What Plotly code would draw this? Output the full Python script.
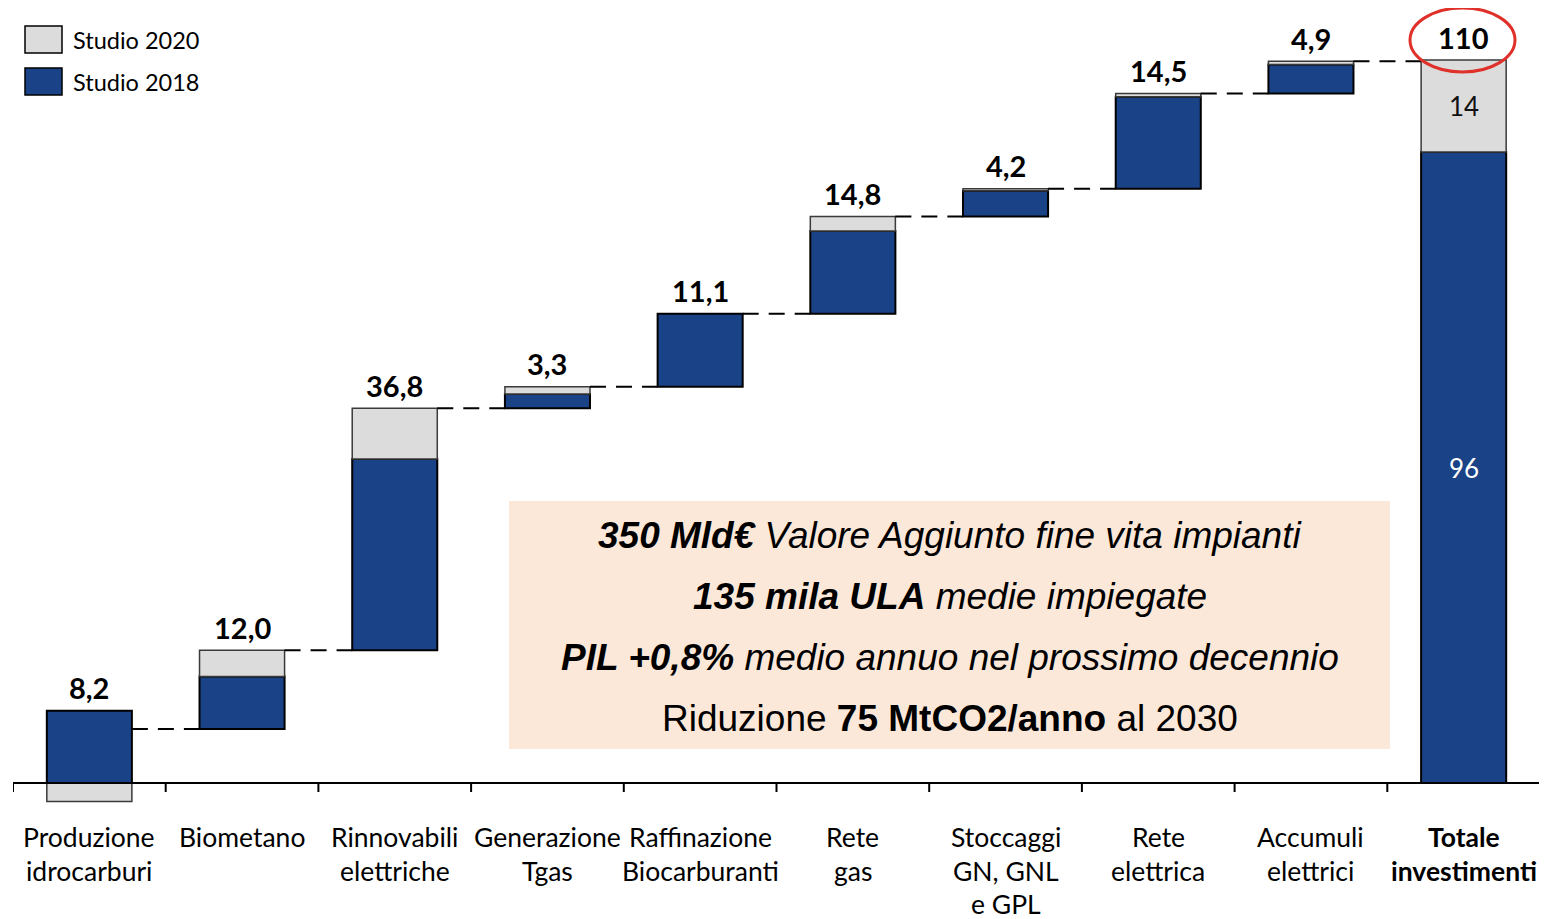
import plotly.graph_objects as go

# ---------------- data ----------------
categories = ["Produzione\nidrocarburi", "Biometano", "Rinnovabili\nelettriche", "Generazione\nTgas",
              "Raffinazione\nBiocarburanti", "Rete\ngas", "Stoccaggi\nGN, GNL\ne GPL", "Rete\nelettrica",
              "Accumuli\nelettrici", "Totale\ninvestimenti"]
studio_2018 = [11.0, 8.0, 29.1, 2.2, 11.1, 12.6, 3.9, 14.0, 4.4, 96]
studio_2020 = [-2.8, 4.0, 7.7, 1.1, 0.0, 2.2, 0.3, 0.5, 0.5, 14]
value_labels = ["8,2", "12,0", "36,8", "3,3", "11,1", "14,8", "4,2", "14,5", "4,9", "110"]
series_names = ["Studio 2020", "Studio 2018"]
box_lines = [
    "<b>350 Mld€</b> Valore Aggiunto fine vita impianti",
    "<b>135 mila ULA</b> medie impiegate",
    "<b>PIL +0,8%</b> medio annuo nel prossimo decennio",
    "Riduzione <b>75 MtCO2/anno</b> al 2030",
]
box_italic = [True, True, True, False]

BLUE = "#1A4387"
GREY = "#DCDCDC"
LABEL_FONT = "Lato, Carlito, sans-serif"

# ---------------- layout geometry (page pixels) ----------------
OFF = 8                      # page body margin
W, H = 1547 - OFF, 919 - OFF
PLOT_L, PLOT_R = 13, 1540    # page px
PLOT_T, PLOT_B = 8, 816      # page px
ML = PLOT_L - OFF
MR = W - (PLOT_R - OFF)
MT = PLOT_T - OFF
MB = H - (PLOT_B - OFF)
PX_PER_UNIT = (783 - 60) / 110.0
Y_MAX = (783 - PLOT_T) / PX_PER_UNIT
n = len(categories)
X_MIN, X_MAX = -0.5, n - 0.5
BW = 0.557
plot_w = PLOT_R - PLOT_L
plot_h = PLOT_B - PLOT_T
Y_MIN = Y_MAX - plot_h / PX_PER_UNIT


def px2x(px):
    return X_MIN + (px - PLOT_L) / plot_w * (X_MAX - X_MIN)


def py2y(py):
    return Y_MAX - (py - PLOT_T) / plot_h * (Y_MAX - Y_MIN)


def py2paper(py):
    return (PLOT_B - py) / plot_h


# ---------------- compute bases ----------------
blue_base, grey_base, tops, ends = [], [], [], []
cum = 0.0
for i in range(n):
    is_total = i == n - 1
    start = 0.0 if is_total else cum
    b, g = studio_2018[i], studio_2020[i]
    blue_base.append(start)
    grey_base.append(start + b if g >= 0 else start)
    tops.append(max(start + b, start + b + g, start))
    end = start + b + g
    ends.append(end)
    if not is_total:
        cum = end

xs = list(range(n))

fig = go.Figure()
fig.add_trace(go.Bar(
    x=xs, y=studio_2018, base=blue_base, width=BW, name=series_names[1],
    marker=dict(color=BLUE, line=dict(color="black", width=2)), showlegend=False,
))
gx = [x for x, g in zip(xs, studio_2020) if g != 0]
gy = [g for g in studio_2020 if g != 0]
gb = [b for b, g in zip(grey_base, studio_2020) if g != 0]
fig.add_trace(go.Bar(
    x=gx, y=gy, base=gb, width=BW, name=series_names[0],
    marker=dict(color=GREY, line=dict(color="#3a3a3a", width=1.5)), showlegend=False,
))

shapes = []
annotations = []

# connectors
for i in range(n - 1):
    shapes.append(dict(type="line", xref="x", yref="y", x0=i + BW / 2, x1=i + 1 - BW / 2,
                       y0=ends[i], y1=ends[i],
                       line=dict(color="black", width=2, dash="16px,10px")))

# baseline axis and ticks
shapes.append(dict(type="line", xref="x", yref="y", x0=X_MIN, x1=X_MAX, y0=0, y1=0,
                   line=dict(color="black", width=2)))
tick_len = 9 / PX_PER_UNIT
for k in range(n + 1):
    shapes.append(dict(type="line", xref="x", yref="y", x0=X_MIN + k, x1=X_MIN + k,
                       y0=0, y1=-tick_len, line=dict(color="black", width=2)))

# value labels
for i in range(n):
    annotations.append(dict(x=i, y=tops[i], xref="x", yref="y", text="<b>%s</b>" % value_labels[i],
                            showarrow=False, yanchor="middle", yshift=23,
                            font=dict(family=LABEL_FONT, size=29, color="black")))

# inside labels of total
ti = n - 1
annotations.append(dict(x=ti, y=studio_2018[ti] / 2, xref="x", yref="y", text="%d" % studio_2018[ti],
                        showarrow=False, font=dict(family=LABEL_FONT, size=26, color="white")))
annotations.append(dict(x=ti, y=studio_2018[ti] + studio_2020[ti] / 2, xref="x", yref="y",
                        text="%d" % studio_2020[ti], showarrow=False,
                        font=dict(family=LABEL_FONT, size=26, color="#111111")))

# red ellipse around total
shapes.append(dict(type="circle", xref="x", yref="y",
                   x0=px2x(1410), x1=px2x(1515), y0=py2y(72), y1=py2y(8),
                   line=dict(color="#E0302A", width=3)))

# category labels
for i, c in enumerate(categories):
    for k, line in enumerate(c.split("\n")):
        txt = "<b>%s</b>" % line if i == n - 1 else line
        annotations.append(dict(x=i, y=py2paper(837 + 33.5 * k), xref="x", yref="paper", text=txt,
                                showarrow=False, yanchor="middle",
                                font=dict(family=LABEL_FONT, size=26.5, color="black")))

# info box
shapes.append(dict(type="rect", xref="x", yref="y", x0=px2x(509), x1=px2x(1390),
                   y0=py2y(749), y1=py2y(501), fillcolor="#FCE8D9", line=dict(width=0), layer="below"))
cx = (px2x(509) + px2x(1390)) / 2
for k, (t, it) in enumerate(zip(box_lines, box_italic)):
    txt = "<i>%s</i>" % t if it else t
    annotations.append(dict(x=cx, y=py2y(535 + 61 * k), xref="x", yref="y", text=txt,
                            showarrow=False, yanchor="middle",
                            font=dict(family="Liberation Sans, Arial, sans-serif", size=37, color="black")))

# legend
leg = [(series_names[0], GREY, 26), (series_names[1], BLUE, 68)]
for name, col, top in leg:
    shapes.append(dict(type="rect", xref="x", yref="y", x0=px2x(25), x1=px2x(62),
                       y0=py2y(top + 27), y1=py2y(top), fillcolor=col,
                       line=dict(color="black", width=1.5)))
    annotations.append(dict(x=px2x(71), y=py2y(top + 14), xref="x", yref="y", text=name,
                            showarrow=False, xanchor="left", yanchor="middle",
                            font=dict(family=LABEL_FONT, size=23.5, color="black")))

fig.update_layout(
    width=W, height=H,
    margin=dict(l=ML, r=MR, t=MT, b=MB),
    paper_bgcolor="white", plot_bgcolor="white",
    barmode="overlay",
    shapes=shapes, annotations=annotations,
    xaxis=dict(range=[X_MIN, X_MAX], visible=False, fixedrange=True),
    yaxis=dict(range=[Y_MIN, Y_MAX], visible=False, fixedrange=True),
    showlegend=False,
)
fig.update_traces(cliponaxis=False)

fig.write_html("out.html")
